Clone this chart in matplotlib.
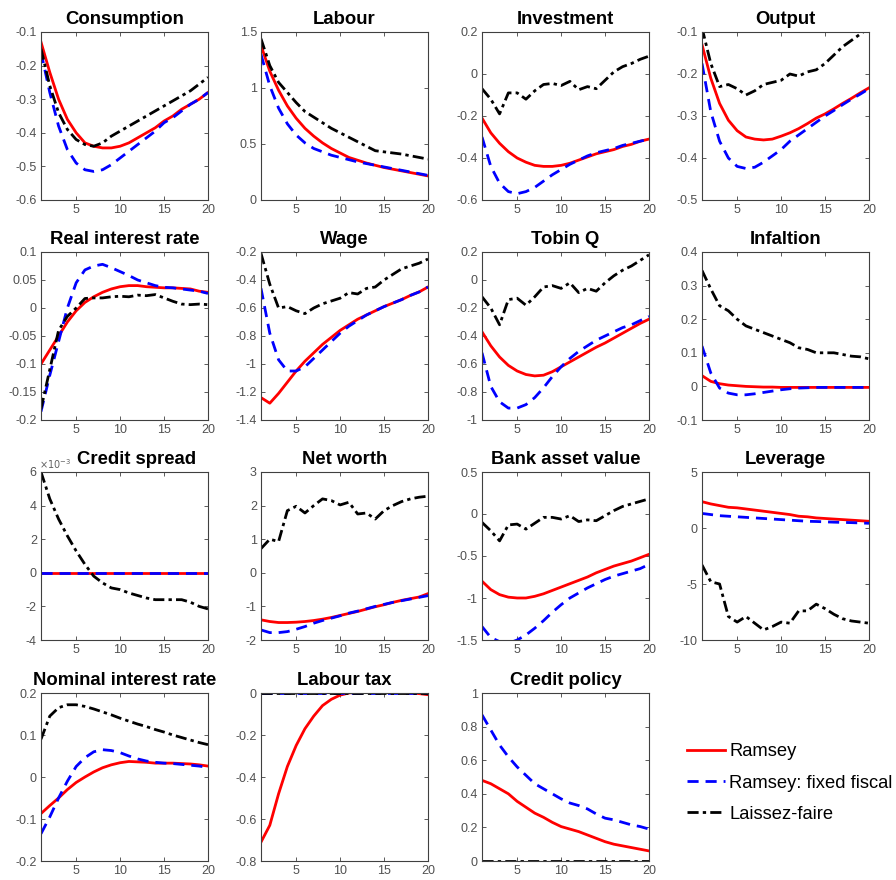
import numpy as np
import matplotlib
matplotlib.use("Agg")
import matplotlib.pyplot as plt

plt.rcParams['font.family'] = ['Liberation Sans', 'DejaVu Sans']

periods = list(range(1, 21))
series_names = ["Ramsey", "Ramsey: fixed fiscal", "Laissez-faire"]

titles = ["Consumption", "Labour", "Investment", "Output",
          "Real interest rate", "Wage", "Tobin Q", "Infaltion",
          "Credit spread", "Net worth", "Bank asset value", "Leverage",
          "Nominal interest rate", "Labour tax", "Credit policy"]

consumption_ramsey = [-0.13, -0.22, -0.30, -0.36, -0.40, -0.43, -0.44, -0.445, -0.445, -0.44, -0.43, -0.415, -0.40, -0.385, -0.365, -0.35, -0.33, -0.315, -0.30, -0.28]
consumption_fixed = [-0.16, -0.28, -0.38, -0.45, -0.49, -0.51, -0.515, -0.51, -0.495, -0.475, -0.455, -0.435, -0.415, -0.395, -0.37, -0.355, -0.335, -0.315, -0.30, -0.28]
consumption_lf = [-0.15, -0.26, -0.34, -0.39, -0.42, -0.435, -0.44, -0.43, -0.41, -0.395, -0.38, -0.365, -0.35, -0.335, -0.32, -0.305, -0.29, -0.275, -0.255, -0.235]

labour_ramsey = [1.38, 1.15, 0.98, 0.84, 0.73, 0.64, 0.57, 0.51, 0.46, 0.42, 0.38, 0.355, 0.33, 0.31, 0.29, 0.275, 0.26, 0.245, 0.23, 0.215]
labour_fixed = [1.30, 1.02, 0.82, 0.68, 0.58, 0.51, 0.46, 0.43, 0.40, 0.38, 0.36, 0.34, 0.325, 0.31, 0.295, 0.28, 0.265, 0.25, 0.235, 0.22]
labour_lf = [1.44, 1.20, 1.05, 0.96, 0.87, 0.79, 0.74, 0.69, 0.64, 0.60, 0.56, 0.52, 0.48, 0.44, 0.43, 0.42, 0.41, 0.395, 0.38, 0.365]

investment_ramsey = [-0.21, -0.28, -0.33, -0.37, -0.40, -0.42, -0.435, -0.44, -0.44, -0.435, -0.425, -0.41, -0.395, -0.38, -0.37, -0.36, -0.345, -0.335, -0.32, -0.31]
investment_fixed = [-0.30, -0.44, -0.52, -0.56, -0.57, -0.56, -0.54, -0.51, -0.48, -0.455, -0.43, -0.41, -0.39, -0.375, -0.365, -0.355, -0.34, -0.33, -0.32, -0.31]
investment_lf = [-0.07, -0.12, -0.19, -0.09, -0.09, -0.12, -0.08, -0.05, -0.045, -0.055, -0.035, -0.075, -0.06, -0.07, -0.03, 0.01, 0.035, 0.05, 0.07, 0.085]

output_ramsey = [-0.13, -0.21, -0.27, -0.31, -0.335, -0.35, -0.355, -0.357, -0.355, -0.348, -0.34, -0.33, -0.318, -0.305, -0.295, -0.283, -0.27, -0.258, -0.245, -0.233]
output_fixed = [-0.175, -0.29, -0.36, -0.40, -0.42, -0.425, -0.422, -0.41, -0.395, -0.38, -0.36, -0.345, -0.33, -0.315, -0.30, -0.287, -0.273, -0.26, -0.248, -0.235]
output_lf = [-0.09, -0.175, -0.23, -0.225, -0.235, -0.25, -0.24, -0.225, -0.22, -0.215, -0.20, -0.205, -0.195, -0.19, -0.175, -0.155, -0.135, -0.12, -0.105, -0.09]

realrate_ramsey = [-0.10, -0.075, -0.05, -0.025, -0.005, 0.01, 0.02, 0.028, 0.034, 0.038, 0.04, 0.04, 0.038, 0.037, 0.036, 0.036, 0.035, 0.034, 0.03, 0.028]
realrate_fixed = [-0.185, -0.12, -0.06, 0.0, 0.045, 0.068, 0.075, 0.078, 0.072, 0.065, 0.058, 0.05, 0.045, 0.04, 0.037, 0.036, 0.034, 0.032, 0.03, 0.026]
realrate_lf = [-0.18, -0.11, -0.04, -0.015, 0.0, 0.017, 0.018, 0.018, 0.02, 0.021, 0.02, 0.023, 0.022, 0.024, 0.018, 0.012, 0.007, 0.006, 0.007, 0.006]

wage_ramsey = [-1.24, -1.28, -1.21, -1.13, -1.05, -0.98, -0.92, -0.86, -0.81, -0.76, -0.72, -0.68, -0.65, -0.62, -0.59, -0.565, -0.54, -0.51, -0.485, -0.45]
wage_fixed = [-0.46, -0.78, -0.97, -1.05, -1.05, -1.02, -0.96, -0.90, -0.84, -0.78, -0.73, -0.69, -0.65, -0.62, -0.59, -0.565, -0.54, -0.51, -0.485, -0.45]
wage_lf = [-0.21, -0.43, -0.60, -0.59, -0.62, -0.64, -0.60, -0.57, -0.55, -0.53, -0.49, -0.50, -0.46, -0.45, -0.40, -0.36, -0.32, -0.30, -0.28, -0.25]

tobinq_ramsey = [-0.37, -0.47, -0.55, -0.61, -0.65, -0.675, -0.685, -0.68, -0.655, -0.62, -0.585, -0.55, -0.515, -0.48, -0.45, -0.415, -0.38, -0.345, -0.31, -0.28]
tobinq_fixed = [-0.52, -0.76, -0.87, -0.915, -0.915, -0.89, -0.84, -0.77, -0.69, -0.62, -0.56, -0.51, -0.47, -0.43, -0.40, -0.37, -0.34, -0.32, -0.29, -0.26]
tobinq_lf = [-0.12, -0.20, -0.32, -0.14, -0.13, -0.18, -0.12, -0.05, -0.04, -0.06, -0.02, -0.09, -0.06, -0.08, -0.02, 0.03, 0.07, 0.10, 0.14, 0.18]

inflation_ramsey = [0.032, 0.015, 0.008, 0.004, 0.002, 0.0, -0.001, -0.002, -0.002, -0.003, -0.003, -0.003, -0.003, -0.003, -0.003, -0.003, -0.003, -0.003, -0.003, -0.003]
inflation_fixed = [0.12, 0.04, -0.005, -0.02, -0.025, -0.025, -0.022, -0.018, -0.014, -0.01, -0.007, -0.005, -0.004, -0.003, -0.003, -0.003, -0.003, -0.003, -0.003, -0.003]
inflation_lf = [0.345, 0.29, 0.24, 0.225, 0.20, 0.18, 0.17, 0.16, 0.15, 0.14, 0.13, 0.115, 0.11, 0.10, 0.10, 0.10, 0.095, 0.09, 0.088, 0.082]

spread_ramsey = [0.0] * 20
spread_fixed = [0.0] * 20
spread_lf = [6.0e-3, 4.4e-3, 3.2e-3, 2.2e-3, 1.3e-3, 0.5e-3, -0.2e-3, -0.6e-3, -0.9e-3, -1.0e-3, -1.2e-3, -1.35e-3, -1.5e-3, -1.6e-3, -1.6e-3, -1.6e-3, -1.6e-3, -1.75e-3, -2.0e-3, -2.15e-3]

networth_ramsey = [-1.40, -1.45, -1.48, -1.48, -1.47, -1.45, -1.42, -1.38, -1.33, -1.27, -1.21, -1.15, -1.08, -1.01, -0.95, -0.88, -0.82, -0.77, -0.72, -0.62]
networth_fixed = [-1.70, -1.78, -1.78, -1.75, -1.68, -1.60, -1.50, -1.42, -1.35, -1.28, -1.20, -1.14, -1.07, -1.00, -0.94, -0.88, -0.83, -0.78, -0.73, -0.68]
networth_lf = [0.72, 1.00, 0.93, 1.85, 1.98, 1.78, 2.00, 2.20, 2.15, 2.02, 2.10, 1.75, 1.78, 1.60, 1.85, 2.00, 2.12, 2.20, 2.25, 2.28]

bankasset_ramsey = [-0.80, -0.90, -0.96, -0.99, -1.00, -1.00, -0.98, -0.95, -0.91, -0.87, -0.83, -0.79, -0.75, -0.70, -0.66, -0.62, -0.59, -0.56, -0.52, -0.48]
bankasset_fixed = [-1.34, -1.47, -1.52, -1.54, -1.50, -1.44, -1.36, -1.27, -1.17, -1.08, -1.00, -0.94, -0.88, -0.83, -0.78, -0.74, -0.71, -0.68, -0.65, -0.60]
bankasset_lf = [-0.10, -0.20, -0.32, -0.13, -0.12, -0.18, -0.11, -0.04, -0.04, -0.06, -0.02, -0.09, -0.07, -0.08, -0.02, 0.04, 0.09, 0.12, 0.15, 0.18]

leverage_ramsey = [2.35, 2.15, 2.00, 1.85, 1.80, 1.70, 1.60, 1.50, 1.40, 1.30, 1.20, 1.05, 1.00, 0.90, 0.85, 0.80, 0.75, 0.70, 0.65, 0.60]
leverage_fixed = [1.30, 1.20, 1.10, 1.05, 1.00, 0.95, 0.90, 0.85, 0.80, 0.75, 0.70, 0.65, 0.60, 0.58, 0.55, 0.52, 0.50, 0.48, 0.45, 0.42]
leverage_lf = [-3.3, -4.8, -5.0, -7.9, -8.4, -7.9, -8.5, -9.1, -8.8, -8.4, -8.5, -7.4, -7.4, -6.8, -7.2, -7.7, -8.1, -8.3, -8.4, -8.5]

nominal_ramsey = [-0.087, -0.068, -0.05, -0.03, -0.013, 0.0, 0.012, 0.022, 0.029, 0.034, 0.037, 0.036, 0.035, 0.033, 0.033, 0.033, 0.032, 0.031, 0.029, 0.026]
nominal_fixed = [-0.135, -0.095, -0.05, -0.01, 0.025, 0.046, 0.06, 0.065, 0.063, 0.058, 0.05, 0.043, 0.038, 0.035, 0.033, 0.032, 0.03, 0.028, 0.026, 0.023]
nominal_lf = [0.09, 0.145, 0.165, 0.172, 0.172, 0.168, 0.162, 0.155, 0.148, 0.14, 0.133, 0.126, 0.12, 0.113, 0.107, 0.10, 0.094, 0.088, 0.082, 0.077]

labourtax_ramsey = [-0.71, -0.63, -0.48, -0.35, -0.25, -0.17, -0.11, -0.06, -0.03, -0.01, 0.0, 0.005, 0.006, 0.005, 0.004, 0.003, 0.002, 0.0, -0.003, -0.008]
labourtax_fixed = [0.0] * 20
labourtax_lf = [0.0] * 20

creditpolicy_ramsey = [0.48, 0.46, 0.43, 0.40, 0.355, 0.32, 0.285, 0.26, 0.23, 0.205, 0.19, 0.175, 0.155, 0.135, 0.115, 0.10, 0.09, 0.08, 0.07, 0.06]
creditpolicy_fixed = [0.87, 0.78, 0.69, 0.62, 0.56, 0.51, 0.46, 0.43, 0.40, 0.37, 0.345, 0.33, 0.31, 0.28, 0.255, 0.245, 0.23, 0.215, 0.205, 0.19]
creditpolicy_lf = [0.0] * 20

panel_data = [
    (consumption_ramsey, consumption_fixed, consumption_lf),
    (labour_ramsey, labour_fixed, labour_lf),
    (investment_ramsey, investment_fixed, investment_lf),
    (output_ramsey, output_fixed, output_lf),
    (realrate_ramsey, realrate_fixed, realrate_lf),
    (wage_ramsey, wage_fixed, wage_lf),
    (tobinq_ramsey, tobinq_fixed, tobinq_lf),
    (inflation_ramsey, inflation_fixed, inflation_lf),
    (spread_ramsey, spread_fixed, spread_lf),
    (networth_ramsey, networth_fixed, networth_lf),
    (bankasset_ramsey, bankasset_fixed, bankasset_lf),
    (leverage_ramsey, leverage_fixed, leverage_lf),
    (nominal_ramsey, nominal_fixed, nominal_lf),
    (labourtax_ramsey, labourtax_fixed, labourtax_lf),
    (creditpolicy_ramsey, creditpolicy_fixed, creditpolicy_lf),
]

ylims = [(-0.6, -0.1), (0, 1.5), (-0.6, 0.2), (-0.5, -0.1),
         (-0.2, 0.1), (-1.4, -0.2), (-1, 0.2), (-0.1, 0.4),
         (-4e-3, 6e-3), (-2, 3), (-1.5, 0.5), (-10, 5),
         (-0.2, 0.2), (-0.8, 0), (0, 1)]
ysteps = [0.1, 0.5, 0.2, 0.1,
          0.05, 0.2, 0.2, 0.1,
          2e-3, 1, 0.5, 5,
          0.1, 0.2, 0.2]

styles = [dict(color='#ff0000', ls='-', lw=2.0),
          dict(color='#0000ff', ls=(0, (4.0, 2.5)), lw=2.0),
          dict(color='#000000', ls=(0, (4.0, 1.5, 1.2, 1.5)), lw=2.0)]


def fmt_tick(v, scale=1.0):
    v = round(v / scale, 6) + 0.0
    if abs(v) < 1e-12:
        return '0'
    return '%g' % v


W, H = 896, 880
fig = plt.figure(figsize=(W / 100, H / 100), dpi=100)

col_left = [41, 261, 482, 702]
row_top = [32, 252, 472, 693]
aw, ah = 167, 168
axis_col = '#404040'

lines_for_legend = None
for i, title in enumerate(titles):
    r, c = divmod(i, 4)
    ax = fig.add_axes([col_left[c] / W, (H - row_top[r] - ah) / H, aw / W, ah / H])
    hs = []
    for data, st, name in zip(panel_data[i], styles, series_names):
        h, = ax.plot(periods, data, label=name, **st)
        hs.append(h)
    if i == 14:
        lines_for_legend = hs
    ax.set_xlim(1, 20)
    ax.set_xticks([5, 10, 15, 20])
    lo, hi = ylims[i]
    ax.set_ylim(lo, hi)
    n = int(round((hi - lo) / ysteps[i]))
    ticks = [lo + k * ysteps[i] for k in range(n + 1)]
    ax.set_yticks(ticks)
    scale = 1e-3 if i == 8 else 1.0
    ax.set_yticklabels([fmt_tick(t, scale) for t in ticks])
    ax.tick_params(direction='in', top=True, right=True, length=3, width=0.6,
                   labelsize=9, colors=axis_col, labelcolor='#505050', pad=3)
    for sp in ax.spines.values():
        sp.set_color(axis_col)
        sp.set_linewidth(0.8)
    if i == 8:
        ax.text(-0.01, 1.005, r'$\times10^{-3}$', transform=ax.transAxes,
                fontsize=7, color='#606060', ha='left', va='bottom')
        ax.set_title(title, fontsize=13.3, fontweight='bold', pad=6, x=0.575)
    else:
        ax.set_title(title, fontsize=13.3, fontweight='bold', pad=6)

fig.legend(handles=lines_for_legend, labels=series_names, loc='center left',
           bbox_to_anchor=(687 / W, 1 - 783 / H), frameon=False, fontsize=13.2,
           handlelength=2.05, handletextpad=0.25, labelspacing=0.78,
           borderaxespad=0, borderpad=0)

fig.savefig('out.png', dpi=100)
